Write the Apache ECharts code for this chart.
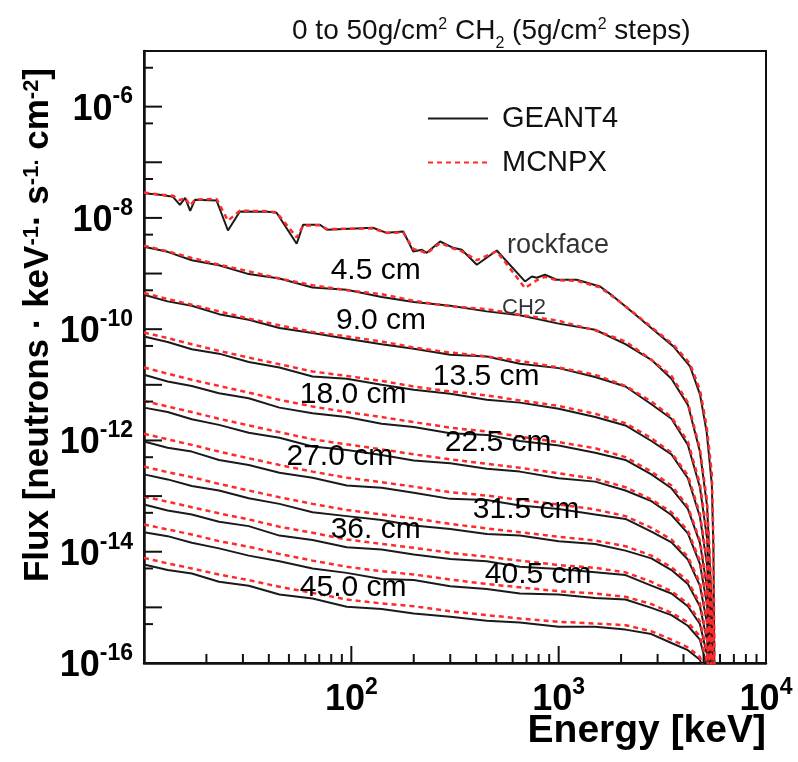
<!DOCTYPE html>
<html>
<head>
<meta charset="utf-8">
<script src="https://cdn.jsdelivr.net/npm/echarts@6/dist/echarts.min.js"></script>
<style>
html, body { margin: 0; padding: 0; background: #fff; }
#chart { width: 798px; height: 762px; }
</style>
</head>
<body>
<div id="chart"></div>
<script>
// energy grid (keV) of the CH2 curves
var energy = [10, 13, 17, 23, 32, 45, 65, 95, 140, 200, 300, 450, 650, 1000, 1500, 2100, 2800, 3500, 4200, 4800, 5200, 5600];

// all flux values are log10(flux)
var g4_d45  = [-8.52, -8.61, -8.76, -8.85, -9.01, -9.09, -9.25, -9.29, -9.42, -9.51, -9.58, -9.68, -9.75, -9.90, -10.01, -10.27, -10.55, -10.89, -11.36, -12.20, -13.19, -15.72];
var mc_d45  = [-8.50, -8.60, -8.72, -8.84, -8.96, -9.09, -9.21, -9.30, -9.37, -9.49, -9.59, -9.64, -9.74, -9.85, -10.02, -10.22, -10.55, -10.84, -11.32, -12.15, -13.10, -15.6];
var g4_d90  = [-9.38, -9.50, -9.58, -9.73, -9.83, -9.98, -10.07, -10.17, -10.27, -10.35, -10.46, -10.49, -10.62, -10.70, -10.86, -11.03, -11.35, -11.61, -12.08, -12.84, -13.77, -16.18];
var mc_d90  = [-9.35, -9.46, -9.56, -9.68, -9.81, -9.93, -10.05, -10.13, -10.22, -10.33, -10.42, -10.49, -10.57, -10.69, -10.82, -11.02, -11.30, -11.58, -12.02, -12.78, -13.70, -16.0];
var g4_d135 = [-10.13, -10.23, -10.36, -10.44, -10.59, -10.69, -10.85, -10.89, -11.00, -11.09, -11.16, -11.27, -11.32, -11.43, -11.58, -11.73, -12.01, -12.25, -12.68, -13.37, -14.24, -16.53];
var mc_d135 = [-10.06, -10.16, -10.27, -10.39, -10.51, -10.63, -10.76, -10.84, -10.93, -11.03, -11.12, -11.19, -11.28, -11.38, -11.52, -11.69, -11.96, -12.22, -12.63, -13.32, -14.18, -16.4];
var g4_d180 = [-10.82, -10.94, -11.02, -11.15, -11.24, -11.41, -11.51, -11.58, -11.70, -11.76, -11.87, -11.90, -12.01, -12.09, -12.22, -12.35, -12.61, -12.86, -13.23, -13.84, -14.65, -16.82];
var mc_d180 = [-10.69, -10.80, -10.91, -11.02, -11.14, -11.27, -11.39, -11.49, -11.58, -11.67, -11.77, -11.84, -11.93, -12.03, -12.14, -12.30, -12.56, -12.81, -13.19, -13.80, -14.60, -16.7];
var g4_d225 = [-11.41, -11.49, -11.62, -11.72, -11.86, -11.95, -12.11, -12.17, -12.26, -12.36, -12.41, -12.51, -12.56, -12.68, -12.74, -12.90, -13.09, -13.34, -13.67, -14.22, -14.96, -17.01];
var mc_d225 = [-11.29, -11.39, -11.49, -11.61, -11.73, -11.85, -11.98, -12.07, -12.16, -12.25, -12.34, -12.42, -12.49, -12.59, -12.69, -12.84, -13.06, -13.29, -13.62, -14.17, -14.90, -16.9];
var g4_d270 = [-12.02, -12.13, -12.20, -12.35, -12.44, -12.58, -12.67, -12.81, -12.85, -12.94, -13.05, -13.07, -13.17, -13.23, -13.33, -13.41, -13.64, -13.83, -14.14, -14.61, -15.29, -17.21];
var mc_d270 = [-11.88, -11.98, -12.08, -12.20, -12.32, -12.44, -12.56, -12.67, -12.75, -12.83, -12.93, -12.99, -13.07, -13.15, -13.24, -13.36, -13.57, -13.78, -14.09, -14.56, -15.23, -17.1];
var g4_d315 = [-12.61, -12.70, -12.82, -12.90, -13.04, -13.14, -13.29, -13.36, -13.43, -13.53, -13.59, -13.68, -13.71, -13.81, -13.86, -13.98, -14.12, -14.33, -14.58, -14.98, -15.60, -17.40];
var mc_d315 = [-12.47, -12.57, -12.66, -12.78, -12.90, -13.02, -13.14, -13.25, -13.33, -13.40, -13.50, -13.58, -13.65, -13.73, -13.80, -13.90, -14.07, -14.28, -14.53, -14.93, -15.55, -17.3];
var g4_d360 = [-13.15, -13.26, -13.33, -13.46, -13.54, -13.71, -13.79, -13.92, -13.96, -14.05, -14.13, -14.17, -14.27, -14.31, -14.37, -14.42, -14.61, -14.75, -14.98, -15.30, -15.86, -17.54];
var mc_d360 = [-13.01, -13.10, -13.20, -13.31, -13.42, -13.55, -13.66, -13.78, -13.86, -13.93, -14.02, -14.09, -14.16, -14.24, -14.29, -14.37, -14.54, -14.71, -14.93, -15.25, -15.80, -17.4];
var g4_d405 = [-13.65, -13.72, -13.84, -13.94, -14.07, -14.17, -14.30, -14.38, -14.49, -14.51, -14.62, -14.67, -14.75, -14.77, -14.83, -14.86, -15.01, -15.14, -15.33, -15.58, -16.08, -17.64];
var mc_d405 = [-13.51, -13.60, -13.69, -13.81, -13.91, -14.04, -14.16, -14.27, -14.35, -14.41, -14.50, -14.58, -14.64, -14.71, -14.75, -14.81, -14.94, -15.10, -15.27, -15.52, -16.0, -17.5];
var g4_d450 = [-14.23, -14.33, -14.39, -14.54, -14.61, -14.77, -14.84, -14.99, -15.03, -15.11, -15.17, -15.24, -15.27, -15.35, -15.35, -15.40, -15.48, -15.64, -15.77, -15.94, -16.38, -17.82];
var mc_d450 = [-14.11, -14.21, -14.30, -14.41, -14.51, -14.63, -14.74, -14.86, -14.93, -14.98, -15.07, -15.14, -15.20, -15.26, -15.29, -15.32, -15.43, -15.58, -15.72, -15.89, -16.3, -17.7];

// rock face spectrum (no shielding), own energy grid
var rockEnergy = [10, 11.9, 13.8, 14.9, 15.8, 16.7, 17.6, 22.4, 25.4, 29, 39.6, 43.6, 54.5, 58.5, 70.6, 76.1, 127, 148, 178, 199, 219, 231, 268, 310, 341, 403, 503, 688, 742, 784, 859, 979, 1222, 1584, 1836, 2293, 2862, 3575, 4302, 4808, 5178, 5480, 5577, 5650];
var g4_rock = [-7.555, -7.585, -7.621, -7.765, -7.639, -7.873, -7.675, -7.688, -8.226, -7.885, -7.891, -7.908, -8.465, -8.124, -8.124, -8.214, -8.178, -8.268, -8.244, -8.603, -8.573, -8.627, -8.424, -8.537, -8.573, -8.842, -8.585, -9.142, -9.052, -9.075, -9.022, -9.111, -9.111, -9.232, -9.411, -9.709, -10.009, -10.309, -10.668, -11.176, -11.858, -12.79, -13.96, -16.5];
var mc_rock = [-7.545, -7.58, -7.60, -7.68, -7.64, -7.78, -7.67, -7.66, -8.05, -7.87, -7.88, -7.90, -8.35, -8.14, -8.13, -8.20, -8.19, -8.27, -8.26, -8.56, -8.60, -8.64, -8.45, -8.55, -8.60, -8.76, -8.60, -9.26, -9.18, -9.12, -9.06, -9.12, -9.13, -9.25, -9.42, -9.70, -9.99, -10.28, -10.62, -11.10, -11.75, -12.6, -13.8, -16.3];

// in-plot annotations: text, energy (keV), flux
var noteText = ['rockface', 'CH2', '4.5 cm', '9.0 cm', '13.5 cm', '18.0 cm', '22.5 cm', '27.0 cm', '31.5 cm', '36. cm', '40.5 cm', '45.0 cm'];
var noteE    = [993, 681, 131, 139, 447, 102, 511, 88, 697, 131, 796, 102];
var noteF    = [3.16e-9, 2.43e-10, 1.12e-9, 1.42e-10, 1.40e-11, 6.67e-12, 9.16e-13, 5.14e-13, 5.74e-14, 2.51e-14, 3.91e-15, 2.29e-15];

// axis ticks
var xMajorTicks = [100, 1000];
var xMinorTicks = [20, 30, 40, 50, 60, 70, 80, 90, 200, 300, 400, 500, 600, 700, 800, 900, 2000, 3000, 4000, 5000, 6000, 7000, 8000, 9000];
var yMajorTicks = [1e-15, 1e-14, 1e-13, 1e-12, 1e-11, 1e-10, 1e-9, 1e-8, 1e-7, 1e-6];
var yMinorTicks = [5e-16, 5e-15, 5e-14, 5e-13, 5e-12, 5e-11, 5e-10, 5e-9, 5e-8, 5e-7, 5e-6];

var FONT = 'Liberation Sans';
var G4_COLOR = '#1a1a1a';
var MC_COLOR = '#ff2b2b';

var toPoints = function(xs, logs) {
    return xs.map(function(x, i) { return [x, Math.pow(10, logs[i])]; });
};

var g4Curves = [g4_rock, g4_d45, g4_d90, g4_d135, g4_d180, g4_d225, g4_d270, g4_d315, g4_d360, g4_d405, g4_d450];
var mcCurves = [mc_rock, mc_d45, mc_d90, mc_d135, mc_d180, mc_d225, mc_d270, mc_d315, mc_d360, mc_d405, mc_d450];

var series = [];
g4Curves.forEach(function(c, i) {
    series.push({
        name: 'GEANT4', type: 'line', symbol: 'none', clip: true, z: 2,
        data: toPoints(i === 0 ? rockEnergy : energy, c),
        itemStyle: { color: G4_COLOR },
        lineStyle: { color: G4_COLOR, width: 2 }
    });
});
mcCurves.forEach(function(c, i) {
    series.push({
        name: 'MCNPX', type: 'line', symbol: 'none', clip: true, z: 3,
        data: toPoints(i === 0 ? rockEnergy : energy, c),
        itemStyle: { color: MC_COLOR },
        lineStyle: { color: MC_COLOR, width: 2.5, type: [5, 4] }
    });
});

// tick marks, placed through the axes
var tickData = [];
xMajorTicks.forEach(function(v) { tickData.push([v, 1e-16, 0, 17]); });
xMinorTicks.forEach(function(v) { tickData.push([v, 1e-16, 0, 9]); });
yMajorTicks.forEach(function(v) { tickData.push([10, v, 1, 18]); });
yMinorTicks.forEach(function(v) { tickData.push([10, v, 1, 9]); });

series.push({
    type: 'custom', silent: true, z: 5, clip: false,
    data: tickData,
    renderItem: function(params, api) {
        var p = api.coord([api.value(0), api.value(1)]);
        var len = api.value(3);
        var shape = api.value(2) === 0
            ? { x1: p[0], y1: p[1], x2: p[0], y2: p[1] - len }
            : { x1: p[0], y1: p[1], x2: p[0] + len, y2: p[1] };
        return { type: 'line', shape: shape, style: { stroke: '#111', lineWidth: 2 } };
    }
});

// annotations
series.push({
    type: 'scatter', silent: true, symbolSize: 0, z: 6,
    itemStyle: { opacity: 1 },
    data: noteText.map(function(t, i) {
        var small = i < 2;
        return {
            value: [noteE[i], noteF[i]],
            label: {
                show: true, position: 'inside', formatter: t,
                fontFamily: FONT, opacity: 1,
                fontSize: i === 0 ? 27 : (i === 1 ? 22 : 30),
                color: small ? '#333' : '#000',
                textBorderWidth: 0
            }
        };
    })
});

var supStyle = { fontFamily: FONT, fontWeight: 'bold', fontSize: 23, verticalAlign: 'top', lineHeight: 23 };
var baseStyle = { fontFamily: FONT, fontWeight: 'bold', fontSize: 36, verticalAlign: 'bottom', lineHeight: 42 };

var expLabel = function(v) {
    var e = Math.round(Math.log10(v));
    return '{b|10}{s|' + e + '}';
};

var option = {
    animation: false,
    backgroundColor: '#fff',
    title: {
        text: '0 to 50g/cm{sup|2} CH{sub|2} (5g/cm{sup|2} steps)',
        left: 287, top: 12,
        textStyle: {
            fontFamily: FONT, fontWeight: 'normal', fontSize: 28, color: '#111',
            rich: {
                sup: { fontFamily: FONT, fontSize: 16, verticalAlign: 'top', lineHeight: 16, color: '#111' },
                sub: { fontFamily: FONT, fontSize: 16, verticalAlign: 'bottom', lineHeight: 16, color: '#111', padding: [0, 0, -7, 0] }
            }
        }
    },
    legend: {
        data: ['GEANT4', 'MCNPX'],
        orient: 'vertical',
        left: 422, top: 99,
        itemWidth: 60, itemHeight: 32, itemGap: 15,
        selectedMode: false,
        itemStyle: { opacity: 0 },
        textStyle: { fontFamily: FONT, fontSize: 29, color: '#111', padding: [0, 0, 0, 9] }
    },
    grid: {
        left: 144, right: 32, top: 51, bottom: 99,
        show: true, borderColor: '#111', borderWidth: 2, backgroundColor: 'transparent'
    },
    xAxis: {
        type: 'log', logBase: 10, min: 10, max: 10000,
        axisLine: { lineStyle: { color: '#111', width: 2.5 } },
        axisTick: { show: false },
        splitLine: { show: false },
        axisLabel: {
            margin: 13, color: '#000',
            formatter: function(v) { return v < 50 ? '' : expLabel(v); },
            rich: { b: baseStyle, s: supStyle }
        }
    },
    yAxis: {
        type: 'log', logBase: 10, min: 1e-16, max: 1e-5, interval: 1,
        axisLine: { lineStyle: { color: '#111', width: 2.5 } },
        axisTick: { show: false },
        splitLine: { show: false },
        axisLabel: {
            margin: 11, color: '#000',
            formatter: function(v) {
                var e = Math.round(Math.log10(v));
                return (e % 2 === 0 && e < -5) ? expLabel(v) : '';
            },
            rich: { b: baseStyle, s: supStyle }
        }
    },
    graphic: [
        {
            type: 'text', x: 38, y: 325, rotation: Math.PI / 2,
            style: {
                text: 'Flux [neutrons · keV{s|-1}· s{s|-1.} cm{s|-2}]',
                fontFamily: FONT, fontWeight: 'bold', fontSize: 35, fill: '#000',
                align: 'center', verticalAlign: 'middle',
                rich: { s: { fontFamily: FONT, fontWeight: 'bold', fontSize: 22, verticalAlign: 'top', lineHeight: 22, fill: '#000' } }
            }
        },
        {
            type: 'text', right: 32, top: 712,
            style: { text: 'Energy [keV]', fontFamily: FONT, fontWeight: 'bold', fontSize: 39, fill: '#000' }
        }
    ],
    series: series
};

var myChart = echarts.init(document.getElementById('chart'));
myChart.setOption(option);
</script>
</body>
</html>
